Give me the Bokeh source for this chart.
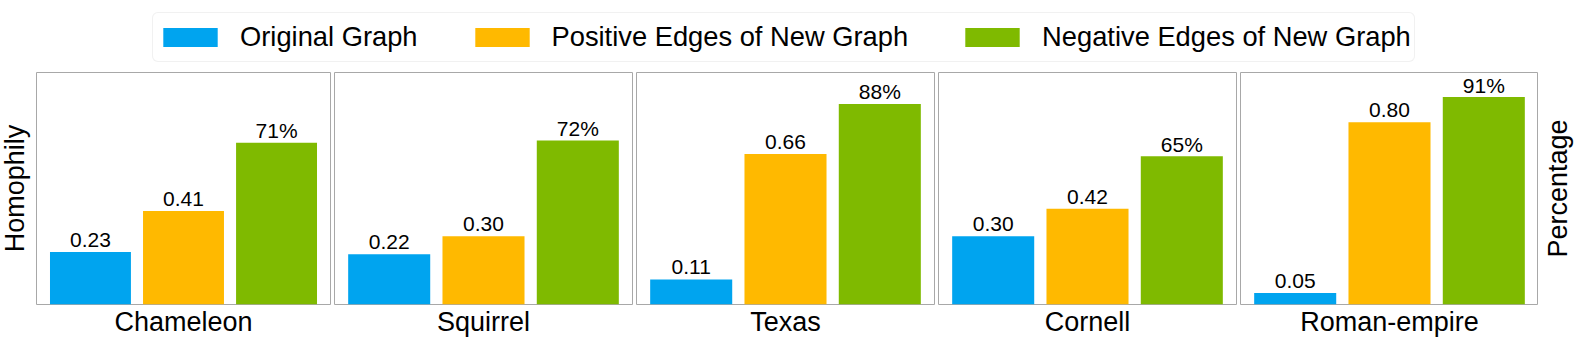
import math
from bokeh.plotting import figure
from bokeh.models import (ColumnDataSource, Range1d, Legend, LegendItem, LinearAxis,
                          FixedTicker, Row, Column)
from bokeh.core.properties import value
from bokeh.embed import file_html
from bokeh.resources import INLINE

# ---------------- data ----------------
datasets = ["Chameleon", "Squirrel", "Texas", "Cornell", "Roman-empire"]
original_homophily = [0.23, 0.22, 0.11, 0.30, 0.05]
positive_homophily = [0.41, 0.30, 0.66, 0.42, 0.80]
negative_percentage = [71, 72, 88, 65, 91]
series_names = ["Original Graph", "Positive Edges of New Graph", "Negative Edges of New Graph"]
colors = ["#00A4EF", "#FFB900", "#7FBA00"]
left_label = "Homophily"
right_label = "Percentage"

# ---------------- style / layout ----------------
FONT = "Liberation Sans"
W_TOTAL = 1578
LEG_H = 66
PANEL_H = 342 - LEG_H
FRAME_W = 298
FRAME_H = 232
TOP = 6
BOTTOM = PANEL_H - TOP - FRAME_H
SIDE = 36
GAP = 2
OUTLINE = "#a8a8a8"


def blank_axis(label, standoff):
    ax = LinearAxis(ticker=FixedTicker(ticks=[]), axis_label=label,
                    axis_line_color=None, major_tick_line_color=None,
                    minor_tick_line_color=None, major_tick_in=0, major_tick_out=0,
                    minor_tick_in=0, minor_tick_out=0, major_label_text_font_size="0px",
                    major_label_standoff=0, axis_label_standoff=standoff,
                    axis_label_text_font=FONT, axis_label_text_font_size="27px",
                    axis_label_text_font_style="normal", axis_label_text_color="black")
    return ax


panels = []
n = len(datasets)
for i, name in enumerate(datasets):
    left = SIDE if i == 0 else GAP
    right = 0 if i == n - 1 else GAP
    p = figure(width=left + FRAME_W + right, height=PANEL_H,
               x_range=Range1d(-0.58, 2.58), y_range=Range1d(0, 1.018),
               output_backend="svg", toolbar_location=None,
               x_axis_type=None, y_axis_type=None,
               min_border_left=left, min_border_right=right,
               min_border_top=TOP, min_border_bottom=BOTTOM)
    p.outline_line_color = OUTLINE
    p.outline_line_width = 1
    p.background_fill_color = "white"
    p.border_fill_color = "white"

    tops = [original_homophily[i], positive_homophily[i], negative_percentage[i] / 100.0]
    labels = ["%.2f" % original_homophily[i], "%.2f" % positive_homophily[i],
              "%d%%" % negative_percentage[i]]
    src = ColumnDataSource(dict(x=[0, 1, 2], top=tops, color=colors, label=labels))
    p.vbar(x="x", top="top", bottom=0, width=0.87, fill_color="color",
           line_color=None, source=src)
    p.text(x="x", y="top", text="label", source=src, text_align="center",
           text_baseline="alphabetic", y_offset=-12, text_font=value(FONT),
           text_font_size="21px", text_color="black")

    p.add_layout(blank_axis(name, 2), "below")
    if i == 0:
        p.add_layout(blank_axis(left_label, 7), "left")
    panels.append(p)

# right-hand vertical label in its own narrow figure
used = sum(pp.width for pp in panels)
rw = W_TOTAL - used
rf = figure(width=rw, height=PANEL_H, x_range=Range1d(0, 1), y_range=Range1d(0, 1),
            output_backend="svg", toolbar_location=None, x_axis_type=None, y_axis_type=None,
            min_border_left=0, min_border_right=0, min_border_top=TOP,
            min_border_bottom=BOTTOM)
rf.outline_line_color = None
rf.text(x=[0.53], y=[0.5], text=[right_label], angle=math.pi / 2, text_align="center",
        text_baseline="middle", text_font=value(FONT), text_font_size="27px",
        text_color="black")
panels.append(rf)

# ---------------- legend ----------------
lf = figure(width=W_TOTAL, height=LEG_H, x_range=Range1d(0, 1), y_range=Range1d(0, 1),
            output_backend="svg", toolbar_location=None, x_axis_type=None, y_axis_type=None,
            min_border=0)
lf.outline_line_color = None
items = []
for nm, c in zip(series_names, colors):
    r = lf.vbar(x=[0], top=[0], width=0.01, fill_color=c, line_color=None)
    items.append(LegendItem(label=nm, renderers=[r]))
legend = Legend(items=items, orientation="horizontal", location=(156, 4),
                border_line_color="#e3e3e3", border_line_width=1,
                background_fill_color="white", background_fill_alpha=1.0,
                padding=3, spacing=50, margin=0, glyph_width=68, glyph_height=24,
                label_height=42, label_standoff=16, label_text_font=FONT,
                label_text_font_size="27.3px", label_text_color="black")
if "border_radius" in Legend.properties():
    legend.border_radius = 6
lf.add_layout(legend, "center")

layout = Column(children=[lf, Row(children=panels, spacing=0)], spacing=0,
                margin=(0, -4, -4, -4))

open("out.html", "w").write(file_html(layout, INLINE))
